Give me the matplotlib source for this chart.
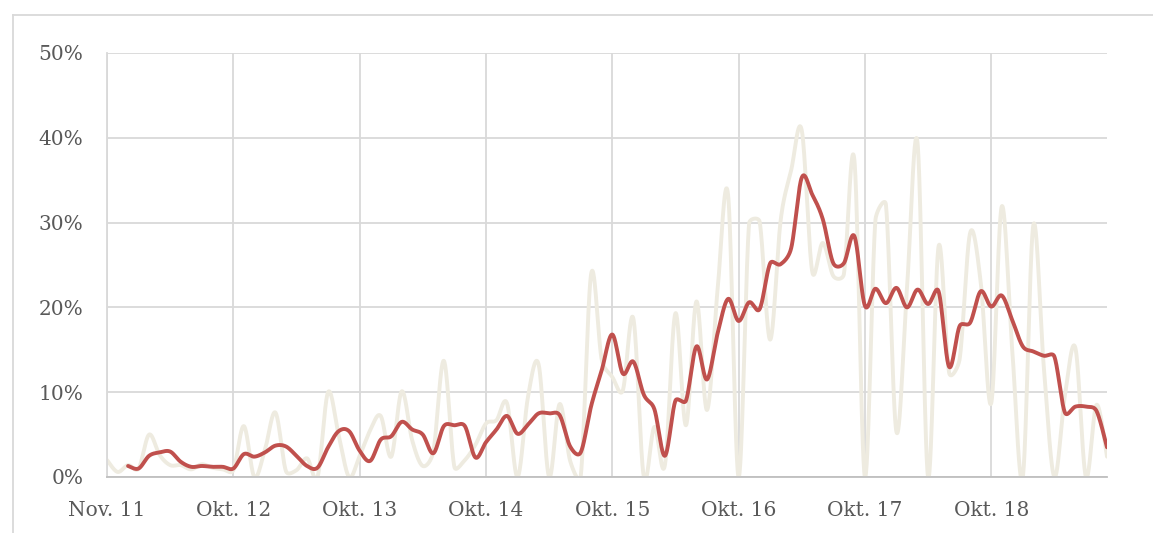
import numpy as np
import matplotlib
matplotlib.use("Agg")
import matplotlib.pyplot as plt
from matplotlib.lines import Line2D

# ---------------- data ----------------
tick_labels = ["Nov. 11", "Okt. 12", "Okt. 13", "Okt. 14", "Okt. 15",
               "Okt. 16", "Okt. 17", "Okt. 18"]
tick_positions = [0, 12, 24, 36, 48, 60, 72, 84]

# monthly share (%), light series
monthly = [2.0, 0.6, 1.4, 1.0, 5.0, 2.6, 1.4, 1.4, 0.9, 1.5,
           1.1, 0.9, 0.8, 6.0, 0.0, 3.2, 7.6, 0.7, 0.8, 2.2,
           0.0, 10.0, 5.0, 0.0, 2.5, 5.5, 7.2, 2.4, 10.1, 4.3,
           1.3, 3.0, 13.7, 1.2, 2.0, 3.8, 6.3, 6.7, 8.7, 0.0,
           9.5, 13.3, 0.0, 8.6, 1.9, 0.0, 24.0, 13.8, 11.8, 10.2,
           18.7, 0.0, 5.9, 1.4, 19.3, 6.1, 20.7, 7.9, 22.0, 33.3,
           0.0, 29.9, 30.1, 16.2, 30.3, 36.2, 40.9, 24.2, 27.6, 23.7,
           23.9, 37.4, 0.0, 30.3, 32.1, 5.3, 22.3, 39.4, 0.0, 27.2,
           12.3, 13.9, 28.8, 23.0, 8.7, 31.9, 14.9, 0.0, 29.7, 12.9,
           0.0, 9.6, 15.2, 0.0, 8.5, 2.4]

# trend series (%), starts at the third month
trend = [None, None, 1.3, 1.0, 2.5, 2.9, 3.0, 1.8, 1.2, 1.3,
         1.2, 1.2, 1.0, 2.7, 2.4, 2.9, 3.7, 3.6, 2.5, 1.3,
         1.1, 3.5, 5.4, 5.4, 3.1, 1.9, 4.4, 4.8, 6.5, 5.6,
         5.0, 2.8, 6.0, 6.1, 6.0, 2.3, 4.1, 5.6, 7.2, 5.1,
         6.2, 7.5, 7.5, 7.3, 3.6, 2.9, 8.4, 12.6, 16.8, 12.2,
         13.6, 9.7, 8.0, 2.5, 9.0, 9.0, 15.4, 11.5, 16.9, 21.0,
         18.4, 20.6, 19.8, 25.2, 25.1, 27.0, 35.3, 33.3, 30.4, 25.2,
         25.2, 28.4, 20.2, 22.2, 20.5, 22.3, 20.0, 22.1, 20.4, 21.9,
         13.0, 17.8, 18.2, 21.9, 20.1, 21.4, 18.5, 15.4, 14.8, 14.3,
         14.2, 7.6, 8.3, 8.3, 7.8, 3.5]

W, H = 1153, 533
left_px, right_px, top_px, bottom_px = 107, 1107, 53, 477
XMAX, YMAX = len(monthly) - 1, 50


def smooth(x, y, n=30):
    """Excel-style smoothed line: Bezier segments whose control points are
    computed in screen space and limited to half the segment length."""
    x = np.asarray(x, float)
    y = np.asarray(y, float)
    kx = (right_px - left_px) / XMAX
    ky = (bottom_px - top_px) / YMAX
    P = np.column_stack([x * kx, y * ky])
    out = []
    t = np.linspace(0, 1, n, endpoint=False)[:, None]
    f = 1.0 / 6.0
    for i in range(len(P) - 1):
        p0 = P[i - 1] if i > 0 else P[i]
        p1 = P[i]
        p2 = P[i + 1]
        p3 = P[i + 2] if i + 2 < len(P) else P[i + 1]
        d02 = np.hypot(*(p2 - p0))
        d12 = np.hypot(*(p2 - p1))
        d13 = np.hypot(*(p3 - p1))
        f0 = f if d02 / 6 < d12 / 2 else (d12 / d02 / 2 if d02 > 0 else 0)
        f3 = f if d13 / 6 < d12 / 2 else (d12 / d13 / 2 if d13 > 0 else 0)
        c1 = p1 + (p2 - p0) * f0
        c2 = p2 + (p1 - p3) * f3
        seg = ((1 - t) ** 3) * p1 + 3 * ((1 - t) ** 2) * t * c1 + \
              3 * (1 - t) * t ** 2 * c2 + t ** 3 * p2
        out.append(seg)
    out.append(P[-1][None, :])
    out = np.vstack(out)
    return out[:, 0] / kx, out[:, 1] / ky


fig = plt.figure(figsize=(W / 100, H / 100), dpi=100)
fig.patch.set_facecolor("white")

# outer chart frame (cut at right and bottom)
fx = 12.5 / W
fy = 1 - 14.5 / H
frame_col = "#D9D9D9"
fig.add_artist(Line2D([fx, fx], [0, fy], transform=fig.transFigure,
                      color=frame_col, lw=1.3))
fig.add_artist(Line2D([fx, 1], [fy, fy], transform=fig.transFigure,
                      color=frame_col, lw=1.3))

left, right = left_px / W, right_px / W
bottom, top = 1 - bottom_px / H, 1 - top_px / H
ax = fig.add_axes([left, bottom, right - left, top - bottom])

x_all = np.arange(len(monthly))
mx, my = smooth(x_all, monthly)
ax.plot(mx, my, color="#EEEBE0", lw=2.8, solid_capstyle="round", zorder=2)

tx = [i for i, v in enumerate(trend) if v is not None]
ty = [v for v in trend if v is not None]
sx, sy = smooth(tx, ty)
ax.plot(sx, sy, color="#C0504D", lw=2.8, solid_capstyle="round", zorder=3)

ax.set_xlim(0, XMAX)
ax.set_ylim(0, YMAX)
ax.set_yticks(range(0, 51, 10))
ax.set_yticklabels([f"{v}%" for v in range(0, 51, 10)])
ax.set_xticks(tick_positions)
ax.set_xticklabels(tick_labels)

grid_col = "#D9D9D9"
ax.grid(True, color=grid_col, lw=1.3, zorder=0)
ax.set_axisbelow(True)
for s in ["top", "right"]:
    ax.spines[s].set_visible(False)
ax.spines["left"].set_color(grid_col)
ax.spines["left"].set_linewidth(1.3)
ax.spines["bottom"].set_color("#BFBFBF")
ax.spines["bottom"].set_linewidth(1.3)

ax.tick_params(axis="both", length=0, colors="#595959", labelsize=14.5)
ax.tick_params(axis="y", pad=17)
ax.tick_params(axis="x", pad=17)
for lab in ax.get_xticklabels() + ax.get_yticklabels():
    lab.set_family("DejaVu Serif")

fig.savefig("out.png", dpi=100, facecolor="white")
